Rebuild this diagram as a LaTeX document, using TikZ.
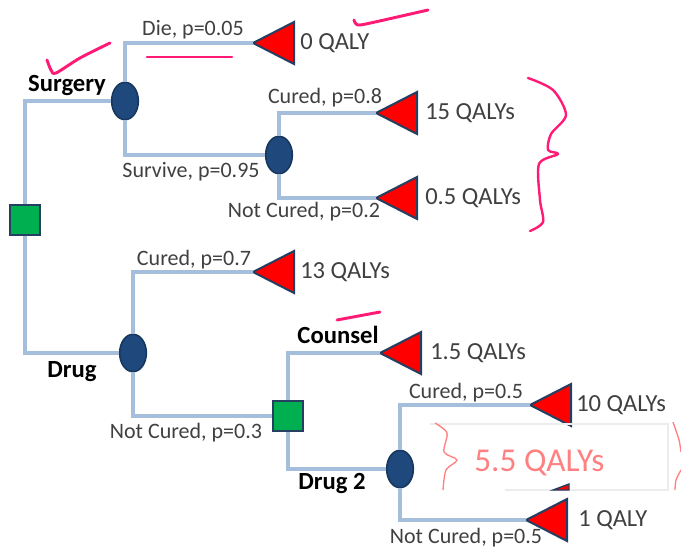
\documentclass[tikz,border=0pt]{standalone}
\usepackage{fontspec}
\setmainfont{Carlito}
\usetikzlibrary{shapes.geometric}

\definecolor{branchblue}{HTML}{A5BEDC}
\definecolor{chancefill}{HTML}{1F497D}
\definecolor{chanceedge}{HTML}{17375E}
\definecolor{decfill}{HTML}{00B050}
\definecolor{decedge}{HTML}{243F60}
\definecolor{labelgray}{HTML}{404040}
\definecolor{ink}{HTML}{FF1A75}
\definecolor{softink}{HTML}{FF8080}

\begin{document}
\begin{tikzpicture}[x=0.75pt, y=-0.75pt,
    branch/.style={draw=branchblue, line width=2.4pt},
    chance/.style={ellipse, draw=chanceedge, fill=chancefill, line width=1.2pt,
      inner sep=0pt, minimum width=20pt, minimum height=28pt},
    decision/.style={rectangle, draw=decedge, fill=decfill, line width=1.5pt,
      inner sep=0pt, minimum size=22pt},
    payoff/.style={draw=decedge, fill=red, line width=1.5pt},
    prob/.style={text=labelgray, font=\fontsize{16.5}{18}\selectfont, inner sep=0pt},
    option/.style={font=\bfseries\fontsize{18.5}{20}\selectfont, inner sep=0pt},
    qaly/.style={text=labelgray, font=\fontsize{18.4}{20}\selectfont, inner sep=0pt, anchor=west},
    scribble/.style={draw=ink, line width=2.2pt, line cap=round, line join=round}]

  \useasboundingbox (0,0) rectangle (681,552);

  % decision and chance nodes
  \node[decision] (d1) at (25,220) {};
  \node[chance] (c1) at (125,101) {};
  \node[chance] (c2) at (279,155) {};
  \node[chance] (c3) at (133,353) {};
  \node[decision] (d2) at (288,416) {};
  \node[chance] (c4) at (400,469) {};

  % outcomes: apex, label
  \foreach \name/\x/\y/\lx/\txt in {
    die/253/43/300/0 QALY, scured/376/113/425/15 QALYs,
    snot/376/198/425/0.5 QALYs, dcured/253/272/300/13 QALYs,
    counsel/380/353/430/1.5 QALYs, dtwocured/530/405/576/10 QALYs,
    dtwonot/526/520/578/1 QALY
  }{
    \coordinate (\name) at (\x,\y);
    \draw[payoff] (\name) -- ++(41,-21) -- ++(0,42) -- cycle;
    \node[qaly] (\name-q) at (\lx,\y) {\txt};
  }

  % branches
  \draw[branch] (d1.north) |- (c1.west);
  \draw[branch] (c1.north) |- (die);
  \draw[branch] (c1.south) |- (c2.west);
  \draw[branch] (c2.north) |- (scured);
  \draw[branch] (c2.south) |- (snot);
  \draw[branch] (d1.south) |- (c3.west);
  \draw[branch] (c3.north) |- (dcured);
  \draw[branch] (c3.south) |- (d2.west);
  \draw[branch] (d2.north) |- (counsel);
  \draw[branch] (d2.south) |- (c4.west);
  \draw[branch] (c4.north) |- (dtwocured);
  \draw[branch] (c4.south) |- (dtwonot);

  % options
  \node[option] (surgery) at (67,86) {Surgery};
  \node[option] (drug) at (72,372) {Drug};
  \node[option] (counsel-l) at (338,335) {Counsel};
  \node[option] (drugtwo) at (332,483) {Drug 2};

  % probabilities
  \node[prob] (p-die) at (193,30) {Die, p=0.05};
  \node[prob] (p-survive) at (191,172) {Survive, p=0.95};
  \node[prob] (p-scured) at (325,98) {Cured, p=0.8};
  \node[prob] (p-snot) at (304,212) {Not Cured, p=0.2};
  \node[prob] (p-dcured) at (194,260) {Cured, p=0.7};
  \node[prob] (p-dnot) at (186,433) {Not Cured, p=0.3};
  \node[prob] (p-twocured) at (466,393) {Cured, p=0.5};
  \node[prob] (p-twonot) at (466,538) {Not Cured, p=0.5};

  % pen marks
  \draw[scribble] plot[smooth] coordinates {(47,60) (51,70) (56,73) (80,58) (110,43)};
  \draw[scribble] (147,57) -- (232,57);
  \draw[scribble] plot[smooth] coordinates {(354,20) (358,25) (375,22) (428,10)};
  \draw[scribble] (337,320) -- (380,312);
  \draw[scribble, line width=1.8pt] plot[smooth] coordinates {(528,78) (553,90) (566,115)
    (551,134) (548,150) (558,154) (539,164) (540,200) (543,222) (530,231)};

  % note box
  \draw[gray!15, line width=0.8pt] (430,424) -- (668,424) -- (668,490) -- (505,490);
  \draw[softink, line width=1pt, line join=round] plot[smooth] coordinates {(435,423) (447,433)
    (444,452) (457,460) (446,470) (443,490)};
  \node[text=softink, font=\fontsize{25}{28}\selectfont, inner sep=0pt, anchor=west]
    (note) at (474,463) {5.5 QALYs};
  \draw[softink, line width=1pt] plot[smooth] coordinates {(673,422) (679,440) (681,452)};
  \draw[softink, line width=1pt] plot[smooth] coordinates {(681,470) (676,480) (675,490)};
  \filldraw[draw=decedge, fill=red, line width=1pt] (553,490) -- (569,484) -- (569,490) -- cycle;
\end{tikzpicture}
\end{document}
